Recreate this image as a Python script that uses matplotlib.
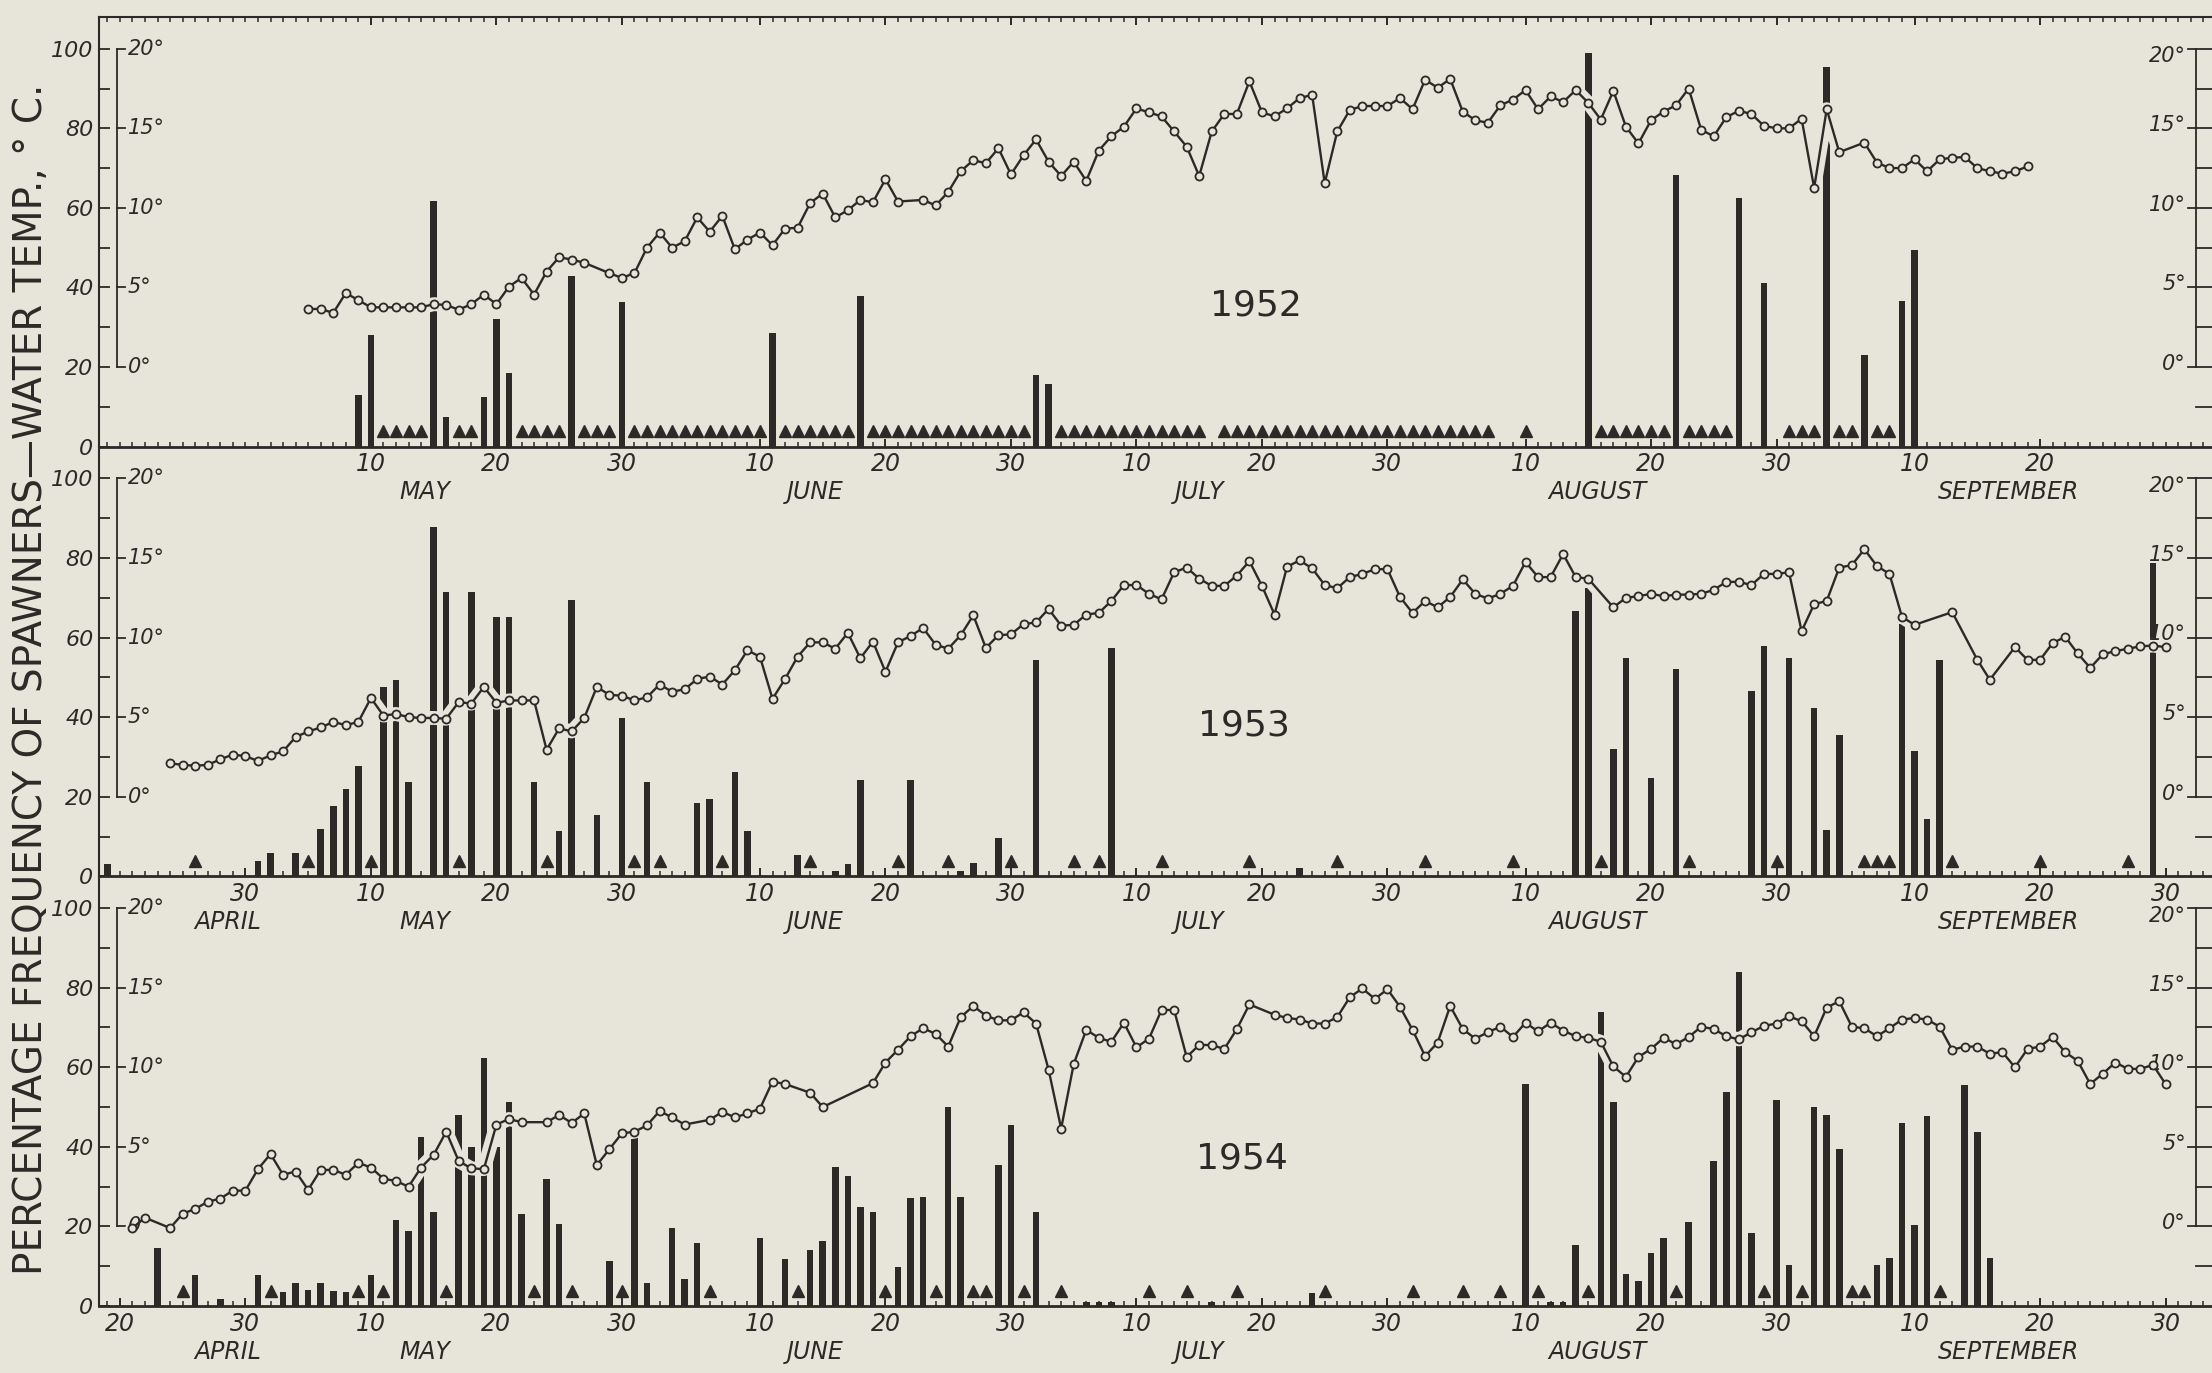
import numpy as np
import matplotlib
matplotlib.use("Agg")
import matplotlib.pyplot as plt
from matplotlib.ticker import FixedLocator

BG = "#e7e5da"
INK = "#2b2a27"

# day numbers count from April 20 (= 0)
# water temperature, deg C, one value per day from the start day, None = no reading
start_1952 = 15
temp_1952 = [3.65, 3.65, 3.4, 4.65, 4.2, 3.75, 3.75, 3.75, 3.75, 3.75,
             3.95, 3.9, 3.6, 3.95, 4.55, 3.95, 5.05, 5.6, 4.55, 6.0,
             6.9, 6.75, 6.55, None, 5.9, 5.6, 5.9, 7.5, 8.45, 7.5,
             7.9, 9.4, 8.5, 9.5, 7.4, 8.0, 8.45, 7.65, 8.7, 8.75,
             10.3, 10.9, 9.4, 9.85, 10.5, 10.35, 11.8, 10.4, None, 10.5,
             10.15, 11.0, 12.3, 13.0, 12.8, 13.75, 12.1, 13.3, 14.3, 12.9,
             12.0, 12.9, 11.7, 13.6, 14.5, 15.1, 16.25, 16.0, 15.75, 14.8,
             13.85, 12.0, 14.8, 15.9, 15.9, 17.95, 16.0, 15.75, 16.25, 16.9,
             17.1, 11.55, 14.8, 16.15, 16.4, 16.4, 16.4, 16.9, 16.2, 18.05,
             17.55, 18.1, 16.05, 15.5, 15.35, 16.45, 16.8, 17.4, 16.2, 17.0,
             16.65, 17.4, 16.6, 15.55, 17.35, 15.1, 14.05, 15.5, 16.05, 16.45,
             17.5, 14.9, 14.5, 15.7, 16.1, 15.9, 15.15, 15.0, 15.0, 15.6,
             11.25, 16.2, 13.5, None, 14.1, 12.85, 12.5, 12.5, 13.05, 12.3,
             13.05, 13.15, 13.2, 12.5, 12.3, 12.15, 12.3, 12.6]

start_1953 = 4
temp_1953 = [2.1, 2.0, 1.95, 2.0, 2.35, 2.65, 2.55, 2.25, 2.6, 2.85,
             3.75, 4.1, 4.35, 4.7, 4.5, 4.7, 6.2, 5.1, 5.2, 5.0,
             4.95, 4.95, 4.9, 5.95, 5.85, 6.9, 5.9, 6.05, 6.05, 6.05,
             2.95, 4.3, 4.1, 4.95, 6.9, 6.4, 6.35, 6.05, 6.25, 7.05,
             6.6, 6.75, 7.4, 7.55, 7.05, 7.95, 9.2, 8.8, 6.15, 7.4,
             8.8, 9.7, 9.7, 9.3, 10.3, 8.7, 9.75, 7.85, 9.7, 10.1,
             10.6, 9.55, 9.3, 10.15, 11.4, 9.35, 10.15, 10.2, 10.85, 10.95,
             11.8, 10.75, 10.8, 11.45, 11.55, 12.3, 13.3, 13.3, 12.75, 12.4,
             14.1, 14.4, 13.7, 13.25, 13.25, 13.9, 14.8, 13.25, 11.45, 14.45,
             14.85, 14.35, 13.3, 13.1, 13.8, 14.0, 14.3, 14.3, 12.55, 11.55,
             12.3, 11.9, 12.55, 13.65, 12.75, 12.45, 12.75, 13.25, 14.75, 13.8,
             13.8, 15.25, 13.8, 13.7, None, 11.9, 12.5, 12.6, 12.75, 12.6,
             12.7, 12.7, 12.75, 13.0, 13.5, 13.5, 13.3, 14.0, 14.0, 14.1,
             10.4, 12.1, 12.3, 14.4, 14.55, 15.55, 14.5, 14.0, 11.3, 10.8,
             None, None, 11.6, None, 8.6, 7.35, None, 9.4, 8.6, 8.6,
             9.65, 10.05, 9.0, 8.1, 8.95, 9.15, 9.3, 9.45, 9.5, 9.4]

start_1954 = 1
temp_1954 = [-0.1, 0.55, None, -0.1, 0.8, 1.1, 1.55, 1.75, 2.25, 2.25,
             3.6, 4.55, 3.25, 3.45, 2.3, 3.55, 3.55, 3.25, 4.0, 3.7,
             3.0, 2.85, 2.5, 3.7, 4.5, 5.95, 4.1, 3.65, 3.6, 6.4,
             6.75, 6.55, None, 6.55, 7.0, 6.5, 7.1, 3.85, 4.85, 5.85,
             5.95, 6.35, 7.25, 6.85, 6.4, None, 6.7, 7.2, 6.85, 7.1,
             7.4, 9.1, 8.95, None, 8.4, 7.5, None, None, None, 9.0,
             10.3, 11.1, 11.95, 12.45, 12.1, 11.3, 13.15, 13.85, 13.25, 12.95,
             12.95, 13.45, 12.75, 9.85, 6.15, 10.2, 12.35, 11.85, 11.6, 12.8,
             11.25, 11.8, 13.6, 13.6, 10.65, 11.4, 11.4, 11.15, 12.4, 13.95,
             None, 13.3, 13.1, 13.0, 12.75, 12.75, 13.15, 14.4, 14.95, 14.3,
             14.9, 13.8, 12.35, 10.7, 11.55, 13.85, 12.4, 11.8, 12.2, 12.55,
             11.9, 12.8, 12.25, 12.8, 12.3, 11.95, 11.85, 11.6, 10.05, 9.4,
             10.65, 11.15, 11.85, 11.45, 11.9, 12.55, 12.4, 11.95, 11.75, 12.2,
             12.6, 12.75, 13.2, 12.9, 11.95, 13.75, 14.15, 12.55, 12.45, 11.95,
             12.45, 13.0, 13.1, 13.0, 12.55, 11.1, 11.3, 11.3, 10.85, 10.95,
             10.0, 11.15, 11.3, 11.9, 10.95, 10.4, 8.95, 9.6, 10.3, 9.9,
             9.9, 10.15, 8.95]

# percentage frequency of spawners
bar_days_1952 = [19, 20, 25, 26, 29, 30, 31, 36, 40, 52, 59, 73, 74,
                 117, 124, 129, 131, 136, 139, 142, 143]
bar_pct_1952 = [13, 28, 61.7, 7.5, 12.5, 32, 18.6, 43, 36.4, 28.6, 37.8, 18, 15.7,
                98.9, 68.3, 62.6, 41, 95.5, 23, 36.7, 49.4]

bar_days_1953 = [-1, 11, 12, 14, 16, 17, 18, 19, 21, 22, 23, 25, 26, 28, 30, 31,
                 33, 35, 36, 38, 40, 42, 46, 47, 49, 50, 54, 57, 58, 59, 63, 67,
                 68, 70, 73, 79, 94, 116, 117, 119, 120, 122, 124, 130, 131, 133,
                 135, 136, 137, 142, 143, 144, 145, 162]
bar_pct_1953 = [3, 3.8, 5.9, 5.9, 11.9, 17.7, 21.9, 27.8, 47.5, 49.4, 23.6, 87.7,
                71.5, 71.5, 65.1, 65.1, 23.6, 11.5, 69.5, 15.5, 39.7, 23.6, 18.4,
                19.4, 26.1, 11.3, 5.4, 1.3, 3.2, 24.3, 24.3, 1.3, 3.3, 9.6, 54.4,
                57.3, 2.1, 66.8, 72.4, 32, 54.8, 24.7, 52, 46.6, 58, 54.9, 42.3,
                11.6, 35.6, 63.3, 31.5, 14.3, 54.4, 78.7]

bar_days_1954 = [3, 6, 8, 11, 13, 14, 15, 16, 17, 18, 20, 22, 23, 24, 25, 27, 28,
                 29, 30, 31, 32, 34, 35, 39, 41, 42, 44, 45, 46, 51, 53, 55, 56,
                 57, 58, 59, 60, 62, 63, 64, 66, 67, 70, 71, 73, 77, 78, 79, 87,
                 95, 112, 114, 115, 116, 118, 119, 120, 121, 122, 123, 125, 127,
                 128, 129, 130, 132, 133, 135, 136, 137, 140, 141, 142, 143, 144,
                 147, 148, 149]
bar_pct_1954 = [14.6, 7.8, 1.7, 7.8, 3.6, 5.8, 4.1, 5.8, 3.8, 3.6, 7.8, 21.6,
                18.8, 42.5, 23.7, 48.1, 40, 62.3, 40, 51.3, 23, 32, 20.5, 11.2,
                45, 5.8, 19.7, 6.8, 15.9, 17.1, 11.9, 14, 16.3, 34.9, 32.6, 25,
                23.7, 9.7, 27.1, 27.5, 50, 27.5, 35.4, 45.6, 23.6, 1, 1, 1, 1,
                3.2, 55.8, 1, 1, 15.4, 73.9, 51.3, 8, 6.4, 13.4, 17.1, 21.2,
                36.4, 53.9, 84, 18.3, 51.9, 10.25, 50, 48, 39.4, 10.25, 12.1,
                46, 20.4, 47.75, 55.6, 43.75, 12.1]

# days watched with no spawners (triangles)
tri_1952 = ([21, 22, 23, 24, 27, 28, 32, 33, 34, 35, 37, 38, 39]
            + list(range(41, 52)) + list(range(53, 59)) + list(range(60, 73))
            + list(range(75, 87)) + list(range(88, 110)) + [112]
            + list(range(118, 124)) + [125, 126, 127, 128, 133, 134, 135,
                                       137, 138, 140, 141])
tri_1953 = [6, 15, 20, 27, 34, 41, 43, 48, 55, 62, 66, 71, 76, 78, 83, 90, 97,
            104, 111, 118, 125, 132, 139, 140, 141, 146, 153, 160]
tri_1954 = [5, 12, 19, 21, 26, 33, 36, 40, 47, 54, 61, 65, 68, 69, 72, 75, 82,
            85, 89, 96, 103, 107, 110, 113, 117, 124, 131, 134, 138, 139, 145]

tick_days = [0, 10, 20, 30, 40, 51, 61, 71, 81, 91, 101, 112, 122, 132, 143, 153, 163]
tick_text = ["20", "30", "10", "20", "30", "10", "20", "30", "10", "20", "30",
             "10", "20", "30", "10", "20", "30"]
months = ["APRIL", "MAY", "JUNE", "JULY", "AUGUST", "SEPTEMBER"]
month_days = [8.6, 24.3, 55.4, 86.0, 117.7, 150.5]

# figure geometry in pixels of the 2212 x 1373 picture
W, H = 2212, 1373
DAY0_PX, PX_PER_DAY = 119.9, 12.55
AX_L, AX_R = 99, 2215
PANEL_H = 429.7
BOTTOM_PX = 1306


def px2day(px):
    return (px - DAY0_PX) / PX_PER_DAY


def to_pct(t):
    return 20 + 4 * t


fig = plt.figure(figsize=(W / 100, H / 100), dpi=100, facecolor=BG)

panels = [
    ("1952", start_1952, temp_1952, bar_days_1952, bar_pct_1952, tri_1952,
     (90.5, 35.5), slice(2, 16), months[1:]),
    ("1953", start_1953, temp_1953, bar_days_1953, bar_pct_1953, tri_1953,
     (89.6, 38.0), slice(1, 17), months),
    ("1954", start_1954, temp_1954, bar_days_1954, bar_pct_1954, tri_1954,
     (89.4, 37.0), slice(0, 17), months),
]

for i, (year, start, temps, bdays, bpct, tris, ypos, tsl, mnames) in enumerate(panels):
    bottom = (H - BOTTOM_PX + (2 - i) * PANEL_H) / H
    ax = fig.add_axes([AX_L / W, bottom, (AX_R - AX_L) / W, PANEL_H / H])
    ax.set_facecolor("none")
    ax.set_xlim(px2day(AX_L), px2day(AX_R))
    ax.set_ylim(0, 108)

    for side in ("right", "top"):
        ax.spines[side].set_visible(False)
    if i == 0:
        ax.spines["top"].set_visible(True)
        ax.spines["top"].set_linewidth(1.5)
        ax.spines["top"].set_color(INK)
    ax.spines["left"].set_linewidth(1.5)
    ax.spines["left"].set_color(INK)
    ax.spines["bottom"].set_linewidth(2.0)
    ax.spines["bottom"].set_color(INK)

    # x axis: daily ticks, labels every ten days
    ax.set_xticks(tick_days[tsl])
    ax.set_xticklabels(tick_text[tsl])
    ax.xaxis.set_minor_locator(FixedLocator(np.arange(-1, 167)))
    ax.tick_params(axis="x", which="major", direction="in", length=6, width=1.4,
                   color=INK, labelcolor=INK, labelsize=17, pad=4, top=(i == 0))
    ax.tick_params(axis="x", which="minor", direction="in", length=3.5, width=1.1,
                   color=INK, top=(i == 0))
    for lab in ax.get_xticklabels():
        lab.set_fontstyle("italic")

    # y axis: percentage
    ax.set_yticks([0, 20, 40, 60, 80, 100])
    ax.set_yticklabels(["0", "20", "40", "60", "80", "100"])
    ax.yaxis.set_minor_locator(FixedLocator([10, 30, 50, 70, 90]))
    ax.tick_params(axis="y", which="both", direction="in", length=8, width=1.3,
                   color=INK, labelcolor=INK, labelsize=16, pad=4)
    for lab in ax.get_yticklabels():
        lab.set_fontstyle("italic")

    # temperature brackets, left and right
    xb = px2day(117)
    ax.plot([xb, xb], [20, 100], color=INK, lw=1.3, clip_on=False)
    xr = px2day(2196)
    ax.plot([xr, xr], [20, 100], color=INK, lw=1.3, clip_on=False)
    for deg in [0, 5, 10, 15, 20]:
        yv = to_pct(deg)
        ax.plot([xb, px2day(125)], [yv, yv], color=INK, lw=1.3, clip_on=False)
        ax.text(px2day(128), yv, "%d°" % deg, fontsize=15, style="italic",
                color=INK, ha="left", va="center")
        ax.plot([px2day(2188), xr], [yv, yv], color=INK, lw=1.3, clip_on=False)
        if deg == 20:
            ax.text(px2day(2186), yv + 0.6, "%d°" % deg, fontsize=15,
                    style="italic", color=INK, ha="right", va="top")
        else:
            ax.text(px2day(2186), yv + 0.8, "%d°" % deg, fontsize=15,
                    style="italic", color=INK, ha="right", va="center")
    for yv in range(10, 101, 10):
        ax.plot([xr, px2day(2213)], [yv, yv], color=INK, lw=1.3, clip_on=False)

    # spawner bars and no-spawning triangles
    ax.bar(bdays, bpct, width=0.52, color=INK, zorder=2)
    ax.plot(tris, [3.8] * len(tris), "^", ms=9, color=INK, zorder=2, ls="none")

    # temperature line, with a clear band cut into the bars
    t = np.array([np.nan if v is None else v for v in temps], dtype=float)
    d = start + np.arange(len(t))
    ok = ~np.isnan(t)
    ax.plot(d[ok], to_pct(t[ok]), color=BG, lw=10, solid_capstyle="round",
            solid_joinstyle="round", zorder=2.5)
    ax.plot(d[ok], to_pct(t[ok]), "-o", color=INK, lw=1.7, ms=5.8, mfc=BG,
            mec=INK, mew=1.3, zorder=3)

    ax.text(ypos[0], ypos[1], year, fontsize=26, color=INK, ha="center",
            va="center")

    mtable = dict(zip(months, month_days))
    for m in mnames:
        ax.annotate(m, xy=(mtable[m], 0), xycoords=("data", "axes fraction"),
                    xytext=(0, -33), textcoords="offset points", ha="center",
                    va="center", fontsize=17, style="italic", color=INK)

fig.text(31 / W, 0.505, "PERCENTAGE FREQUENCY OF SPAWNERS—WATER TEMP., ° C.",
         rotation=90, fontsize=28, color=INK, ha="center", va="center")

fig.savefig("out.png", dpi=100, facecolor=BG)
